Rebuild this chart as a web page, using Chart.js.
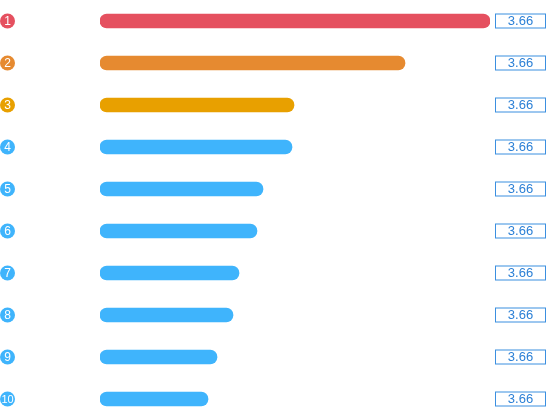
<!DOCTYPE html>
<html>
<head>
<meta charset="utf-8">
<script src="https://cdn.jsdelivr.net/npm/chart.js@4/dist/chart.umd.min.js"></script>
<style>
    html, body { margin: 0; padding: 0; background: #fff; }
    #wrap { width: 550px; height: 420px; }
</style>
</head>
<body>
<div id="wrap"><canvas id="myChart"></canvas></div>
<script>
const ranks = ['1', '2', '3', '4', '5', '6', '7', '8', '9', '10'];
const scores = [390, 305, 194, 192, 163, 157, 139, 133, 117, 108];
const valueLabels = ['3.66', '3.66', '3.66', '3.66', '3.66', '3.66', '3.66', '3.66', '3.66', '3.66'];
const barColors = ['#e5505f', '#e68a30', '#e8a000', '#3fb4fc', '#3fb4fc', '#3fb4fc', '#3fb4fc', '#3fb4fc', '#3fb4fc', '#3fb4fc'];

// rank badges on the left and value boxes on the right
const sidePlugin = {
    id: 'sideLabels',
    afterDraw(chart) {
        const ctx = chart.ctx;
        const y = chart.scales.y;
        ctx.save();
        ranks.forEach((r, i) => {
            const py = y.getPixelForValue(i);
            ctx.fillStyle = barColors[i];
            ctx.beginPath();
            ctx.arc(7.5, py, 7.5, 0, Math.PI * 2);
            ctx.fill();
            ctx.fillStyle = '#fff';
            ctx.font = (r.length > 1 ? '11px' : '12px') + ' "Liberation Sans", Arial, sans-serif';
            ctx.textAlign = 'center';
            ctx.textBaseline = 'middle';
            ctx.fillText(r, 7.5, py + 0.5);

            ctx.strokeStyle = '#3b8fe0';
            ctx.lineWidth = 1;
            ctx.strokeRect(495.5, py - 7, 50, 14);
            ctx.fillStyle = '#2c80d6';
            ctx.font = '13px "Liberation Sans", Arial, sans-serif';
            ctx.fillText(valueLabels[i], 520.5, py + 0.5);
        });
        ctx.restore();
    }
};

const ctx = document.getElementById('myChart').getContext('2d');
const myChart = new Chart(ctx, {
    type: 'bar',
    data: {
        labels: ranks,
        datasets: [{
            data: scores,
            backgroundColor: barColors,
            barThickness: 14,
            borderRadius: 7,
            borderSkipped: false
        }]
    },
    options: {
        indexAxis: 'y',
        responsive: true,
        maintainAspectRatio: false,
        animation: false,
        layout: { padding: { left: 100, right: 60, top: -1, bottom: 0 } },
        plugins: {
            legend: { display: false },
            tooltip: { enabled: false }
        },
        scales: {
            x: { display: false, min: 0, max: 390 },
            y: { display: false }
        }
    },
    plugins: [sidePlugin]
});
</script>
</body>
</html>
